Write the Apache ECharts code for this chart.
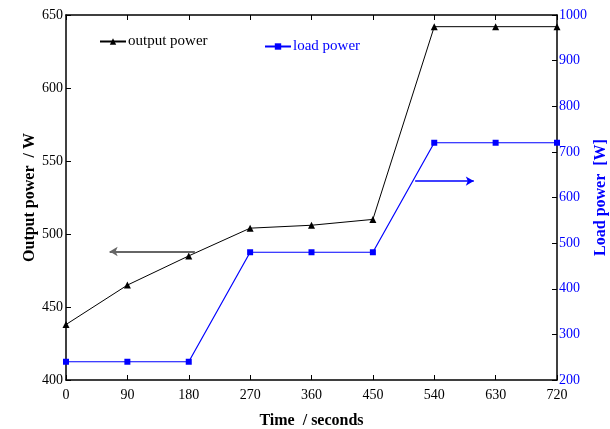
<!DOCTYPE html>
<html><head><meta charset="utf-8">
<script src="https://cdn.jsdelivr.net/npm/echarts@6/dist/echarts.min.js"></script>
<style>html,body{margin:0;padding:0;background:#fff}#c{width:610px;height:429px}</style>
</head><body><div id="c"></div>
<script>
const times = [0, 90, 180, 270, 360, 450, 540, 630, 720];
const outputPower = [438, 465, 485, 504, 506, 510, 642, 642, 642];
const loadPower = [240, 240, 240, 480, 480, 480, 720, 720, 720];
const xTicks = [0, 90, 180, 270, 360, 450, 540, 630, 720];

const F = '"Liberation Serif", "Times New Roman", serif';
const chart = echarts.init(document.getElementById('c'));
const pair = (xs, ys) => xs.map((x, i) => [x, ys[i]]);
chart.setOption({
  animation: false,
  textStyle: { fontFamily: F },
  grid: { left: 66, right: 53, top: 15, bottom: 49, containLabel: false, outerBoundsMode: 'none' },
  legend: [
    { data: ['output power'], left: 94, top: 29, itemWidth: 26, itemHeight: 8,
      textStyle: { fontFamily: F, fontSize: 15, color: '#000', padding: [0, 0, 0, -3] } },
    { data: ['load power'], left: 259, top: 34, itemWidth: 26, itemHeight: 8,
      textStyle: { fontFamily: F, fontSize: 15, color: '#0000ff', padding: [0, 0, 0, -3] } }
  ],
  xAxis: [
    { type: 'value', min: 0, max: 720, interval: 90, position: 'bottom',
      name: 'Time  / seconds', nameLocation: 'middle', nameGap: 33, nameMoveOverlap: false,
      nameTextStyle: { fontFamily: F, fontSize: 16, fontWeight: 'bold', color: '#000' },
      axisLine: { onZero: false, lineStyle: { color: '#000', width: 1.5 } },
      axisTick: { inside: true, length: 5, lineStyle: { color: '#000' } },
      minorTick: { show: false },
      axisLabel: { fontFamily: F, fontSize: 14, color: '#000', margin: 8, formatter: v => String(v) },
      splitLine: { show: false } },
    { type: 'value', min: 0, max: 720, interval: 90, position: 'top',
      axisLine: { onZero: false, lineStyle: { color: '#000', width: 1.5 } },
      axisTick: { inside: true, length: 5, lineStyle: { color: '#000' } },
      minorTick: { show: false },
      axisLabel: { show: false }, splitLine: { show: false } }
  ],
  yAxis: [
    { type: 'value', min: 400, max: 650, interval: 50, position: 'left',
      name: 'Output power  / W', nameLocation: 'middle', nameGap: 28, nameRotate: 90, nameMoveOverlap: false,
      nameTextStyle: { fontFamily: F, fontSize: 16, fontWeight: 'bold', color: '#000' },
      axisLine: { show: true, onZero: false, lineStyle: { color: '#000', width: 1.5 } },
      axisTick: { show: true, inside: true, length: 5, lineStyle: { color: '#000' } },
      minorTick: { show: false },
      axisLabel: { fontFamily: F, fontSize: 14, color: '#000', margin: 3, formatter: v => String(v) },
      splitLine: { show: false } },
    { type: 'value', min: 200, max: 1000, interval: 100, position: 'right',
      alignTicks: false,
      name: 'Load power  [W]', nameLocation: 'middle', nameGap: 36, nameRotate: 90, nameMoveOverlap: false,
      nameTextStyle: { fontFamily: F, fontSize: 16, fontWeight: 'bold', color: '#0000ff' },
      axisLine: { show: true, onZero: false, lineStyle: { color: '#000', width: 1.5 } },
      axisTick: { show: true, inside: true, length: 5, lineStyle: { color: '#000' } },
      minorTick: { show: false },
      axisLabel: { fontFamily: F, fontSize: 14, color: '#0000ff', margin: 2, formatter: v => String(v) },
      splitLine: { show: false } }
  ],
  series: [
    { name: 'output power', type: 'line', xAxisIndex: 0, yAxisIndex: 0,
      data: pair(times, outputPower), symbol: 'triangle', symbolSize: 7,
      lineStyle: { color: '#000', width: 1 }, itemStyle: { color: '#000' },
      clip: false,
      markLine: { silent: true, symbol: ['none', 'arrow'], symbolSize: [7, 8],
        label: { show: false },
        lineStyle: { color: '#666', width: 2, type: 'solid' },
        data: [[{ coord: [189, 488] }, { coord: [64, 488] }]] } },
    { name: 'load power', type: 'line', xAxisIndex: 0, yAxisIndex: 1,
      data: pair(times, loadPower), symbol: 'rect', symbolSize: 6,
      lineStyle: { color: '#0000ff', width: 1.2 }, itemStyle: { color: '#0000ff' },
      clip: false,
      markLine: { silent: true, symbol: ['none', 'arrow'], symbolSize: [7, 8],
        label: { show: false },
        lineStyle: { color: '#0000ff', width: 1.5, type: 'solid' },
        data: [[{ coord: [512, 636] }, { coord: [598, 636] }]] } }
  ]
});
</script></body></html>
